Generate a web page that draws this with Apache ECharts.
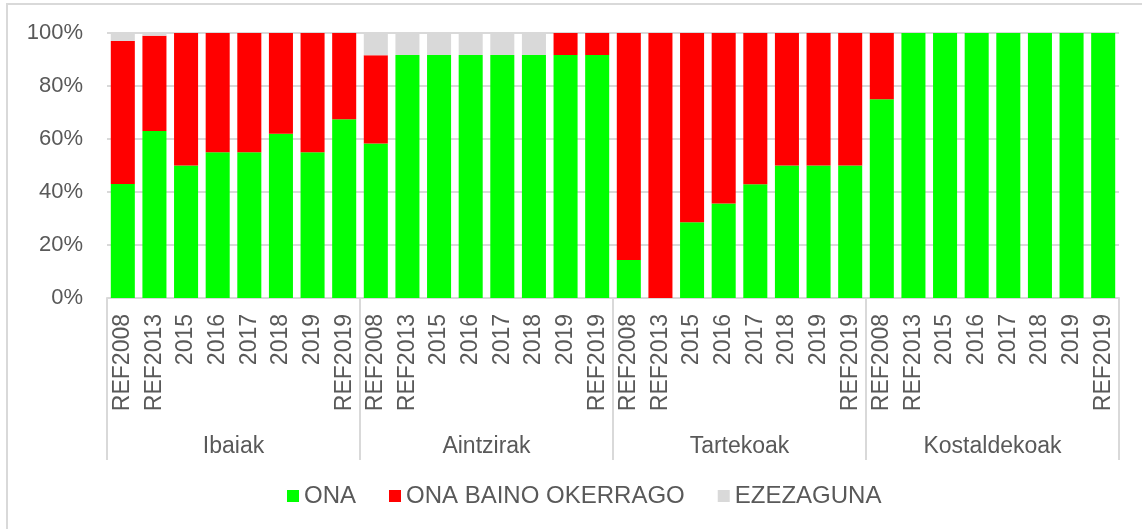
<!DOCTYPE html>
<html>
<head>
<meta charset="utf-8">
<script src="https://cdn.jsdelivr.net/npm/echarts@6/dist/echarts.min.js"></script>
<style>
html,body{margin:0;padding:0;background:#fff;}
#c{width:1142px;height:529px;}
</style>
</head>
<body>
<div id="c"></div>
<script>
const groups = ['Ibaiak', 'Aintzirak', 'Tartekoak', 'Kostaldekoak'];
const years = ['REF2008', 'REF2013', '2015', '2016', '2017', '2018', '2019', 'REF2019'];
const seriesNames = ['ONA', 'ONA BAINO OKERRAGO', 'EZEZAGUNA'];
// values in % per group, in order of years
const ona = [
  43, 63, 50, 55, 55, 62, 55, 67.5,
  58.3, 91.7, 91.7, 91.7, 91.7, 91.7, 91.7, 91.7,
  14.3, 0, 28.6, 35.7, 42.9, 50, 50, 50,
  75, 100, 100, 100, 100, 100, 100, 100
];
const onaBainoOkerrago = [
  54, 36, 50, 45, 45, 38, 45, 32.5,
  33.3, 0, 0, 0, 0, 0, 8.3, 8.3,
  85.7, 100, 71.4, 64.3, 57.1, 50, 50, 50,
  25, 0, 0, 0, 0, 0, 0, 0
];
const ezezaguna = [
  3, 1, 0, 0, 0, 0, 0, 0,
  8.4, 8.3, 8.3, 8.3, 8.3, 8.3, 0, 0,
  0, 0, 0, 0, 0, 0, 0, 0,
  0, 0, 0, 0, 0, 0, 0, 0
];
const yTicks = [0, 20, 40, 60, 80, 100];

const categories = [];
groups.forEach(g => years.forEach(y => categories.push(g + '|' + y)));

const textColor = '#595959';
const font = 'Liberation Sans, Arial, sans-serif';
const chart = echarts.init(document.getElementById('c'), null, {renderer: 'canvas'});
const colors = ['#00FF00', '#FF0000', '#D9D9D9'];
const dataSets = [ona, onaBainoOkerrago, ezezaguna];

chart.setOption({
  animation: false,
  backgroundColor: '#fff',
  textStyle: {fontFamily: font},
  graphic: [{
    type: 'polyline',
    shape: {points: [[7, 540], [7, 4], [1150, 4]]},
    style: {stroke: '#d9d9d9', lineWidth: 2, fill: null},
    silent: true
  }],
  legend: {
    top: 479,
    left: 282,
    itemWidth: 12,
    itemHeight: 12,
    itemGap: 33,
    icon: 'rect',
    textStyle: {color: textColor, fontSize: 24, fontFamily: font},
    data: seriesNames
  },
  grid: {left: 107, right: 23, top: 33, bottom: 231, containLabel: false},
  xAxis: [{
    type: 'category',
    data: categories,
    position: 'bottom',
    axisLine: {show: true, lineStyle: {color: '#d9d9d9', width: 2}},
    axisTick: {show: false},
    axisLabel: {
      interval: 0,
      rotate: 90,
      margin: 16,
      color: textColor,
      fontSize: 23,
      fontFamily: font,
      formatter: v => v.split('|')[1]
    }
  }, {
    type: 'category',
    data: groups,
    position: 'bottom',
    axisLine: {show: false},
    axisTick: {show: true, length: 162, lineStyle: {color: '#d9d9d9', width: 2}},
    axisLabel: {margin: 137, color: textColor, fontSize: 23, fontFamily: font},
    splitLine: {show: false}
  }],
  yAxis: {
    type: 'value',
    min: yTicks[0],
    max: yTicks[yTicks.length - 1],
    interval: 20,
    axisLine: {show: false},
    axisTick: {show: false},
    splitLine: {lineStyle: {color: '#d9d9d9', width: 2}},
    axisLabel: {
      margin: 24,
      color: textColor,
      fontSize: 22,
      fontFamily: font,
      formatter: v => v + '%'
    }
  },
  series: seriesNames.map((n, i) => ({
    name: n,
    type: 'bar',
    stack: 'total',
    barWidth: '76%',
    itemStyle: {color: colors[i]},
    data: dataSets[i]
  }))
});
</script>
</body>
</html>
